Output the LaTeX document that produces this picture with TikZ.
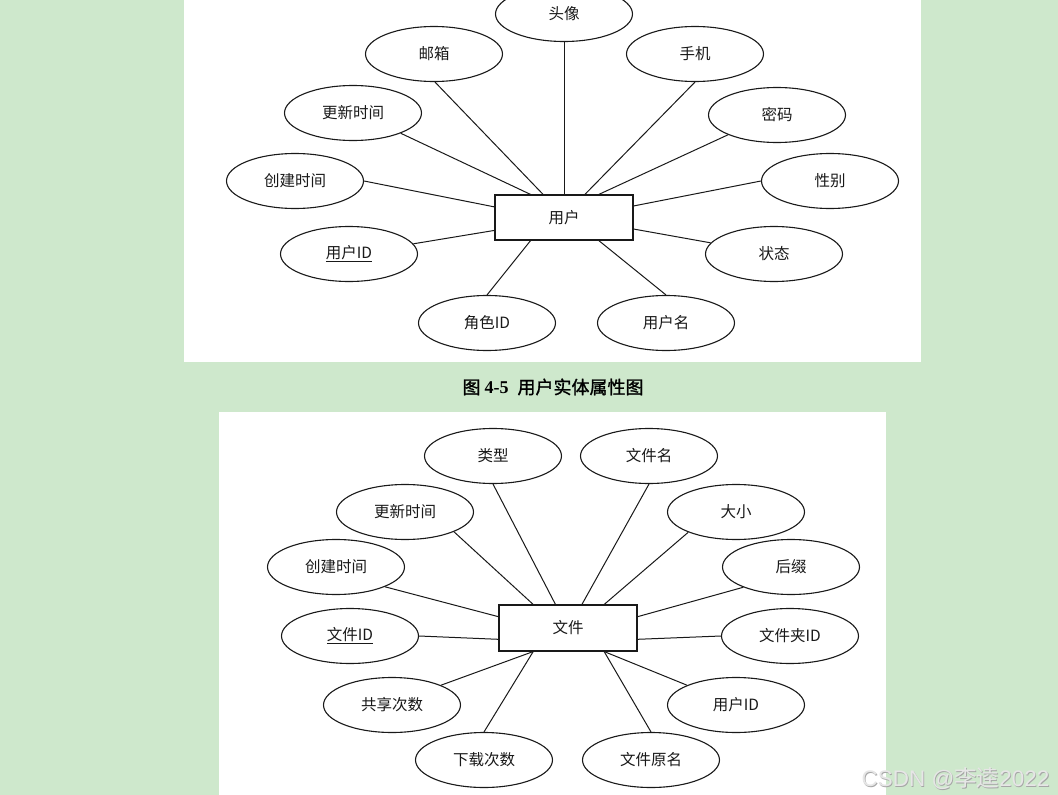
\documentclass[tikz,border=0pt]{standalone}
\usepackage{fontspec}
\setmainfont{Liberation Sans}
\newfontfamily\cjk{Noto Sans CJK SC}
\newfontfamily\cjkcap[FakeBold=1.2]{Noto Sans CJK SC}
\newfontfamily\capserif{Liberation Serif}
\usetikzlibrary{shapes.geometric,calc}
\definecolor{bggreen}{RGB}{206,232,204}
\definecolor{inkc}{RGB}{25,25,25}
\definecolor{wmark}{RGB}{230,230,230}
\begin{document}
\begin{tikzpicture}[x=1pt,y=-1pt,
  attr/.style={ellipse,draw=inkc,line width=1.1pt,fill=white,minimum width=137pt,minimum height=55pt,inner sep=0pt,font=\cjk\fontsize{15.5}{18}\selectfont,text=inkc},
  ent/.style={rectangle,draw=inkc,line width=1.1pt,fill=white,minimum width=138pt,minimum height=45pt,inner sep=0pt,font=\cjk\fontsize{15.5}{18}\selectfont,text=inkc},
  link/.style={draw=inkc,line width=1pt}]
\useasboundingbox (0,0) rectangle (1058,795);
\fill[bggreen] (0,0) rectangle (1058,795);
\fill[white] (184,0) rectangle (921,362);
\fill[white] (219,412) rectangle (886,795);
% ---------- top diagram ----------
\begin{scope}
\clip (184,0) rectangle (921,362);
\node[ent] (u) at (564,217.5) {用户};
\node[attr] (ta) at (564,14) {头像};
\node[attr] (tb) at (434,54) {邮箱};
\node[attr] (tc) at (695,54) {手机};
\node[attr] (td) at (353,113) {更新时间};
\node[attr] (te) at (777,115) {密码};
\node[attr] (tf) at (295,181) {创建时间};
\node[attr] (tg) at (830,181) {性别};
\node[attr] (th) at (349,254) {\underline{用户ID}};
\node[attr] (ti) at (774,254) {状态};
\node[attr] (tj) at (487,323) {角色ID};
\node[attr] (tk) at (666,323) {用户名};
\draw[link] (u.north) -- (ta.-90);
\draw[link] ($(u.north west)!0.35!(u.north east)$) -- (tb.-88);
\draw[link] ($(u.north west)!0.65!(u.north east)$) -- (tc.-90);
\draw[link] ($(u.north west)!0.26!(u.north east)$) -- (td.-23);
\draw[link] ($(u.north west)!0.75!(u.north east)$) -- (te.-158);
\draw[link] ($(u.north west)!0.27!(u.south west)$) -- (tf.0);
\draw[link] ($(u.north east)!0.25!(u.south east)$) -- (tg.180);
\draw[link] ($(u.north west)!0.78!(u.south west)$) -- (th.9);
\draw[link] ($(u.north east)!0.75!(u.south east)$) -- (ti.170);
\draw[link] ($(u.south west)!0.26!(u.south east)$) -- (tj.90);
\draw[link] ($(u.south west)!0.75!(u.south east)$) -- (tk.90);
\end{scope}
% ---------- caption ----------
\node[font=\fontsize{18}{22}\selectfont,text=black] (cap) at (553,387) {{\cjkcap 图}\hspace{4pt}{\capserif\bfseries 4-5}\hspace{9pt}{\cjkcap 用户实体属性图}};
% ---------- bottom diagram ----------
\node[ent,minimum height=46pt] (f) at (568,628) {文件};
\node[attr] (ba) at (493,456) {类型};
\node[attr] (bb) at (649,456) {文件名};
\node[attr] (bc) at (405,512) {更新时间};
\node[attr] (bd) at (736,512) {大小};
\node[attr] (be) at (336,567) {创建时间};
\node[attr] (bf) at (791,567) {后缀};
\node[attr] (bg) at (350,636) {\underline{文件ID}};
\node[attr] (bh) at (790,636) {文件夹ID};
\node[attr] (bi) at (392,705) {共享次数};
\node[attr] (bj) at (736,705) {用户ID};
\node[attr] (bk) at (484,760) {下载次数};
\node[attr] (bl) at (651,760) {文件原名};
\draw[link] ($(f.north west)!0.41!(f.north east)$) -- (ba.-90);
\draw[link] ($(f.north west)!0.60!(f.north east)$) -- (bb.-90);
\draw[link] ($(f.north west)!0.25!(f.north east)$) -- (bc.-22);
\draw[link] ($(f.north west)!0.76!(f.north east)$) -- (bd.-157);
\draw[link] ($(f.north west)!0.26!(f.south west)$) -- (be.-22);
\draw[link] ($(f.north east)!0.26!(f.south east)$) -- (bf.-157);
\draw[link] ($(f.north west)!0.74!(f.south west)$) -- (bg.0);
\draw[link] ($(f.north east)!0.74!(f.south east)$) -- (bh.180);
\draw[link] ($(f.south west)!0.25!(f.south east)$) -- (bi.22);
\draw[link] ($(f.south west)!0.76!(f.south east)$) -- (bj.158);
\draw[link] ($(f.south west)!0.25!(f.south east)$) -- (bk.90);
\draw[link] ($(f.south west)!0.76!(f.south east)$) -- (bl.90);
% ---------- watermark ----------
\node[font=\fontsize{22.5}{26}\selectfont,text=black!35,anchor=east] at (1053.8,779.8) {CSDN @{\cjk 李逵}2022};
\node[font=\fontsize{22.5}{26}\selectfont,text=wmark,anchor=east] (wm) at (1053,779) {CSDN @{\cjk 李逵}2022};
\end{tikzpicture}
\end{document}
